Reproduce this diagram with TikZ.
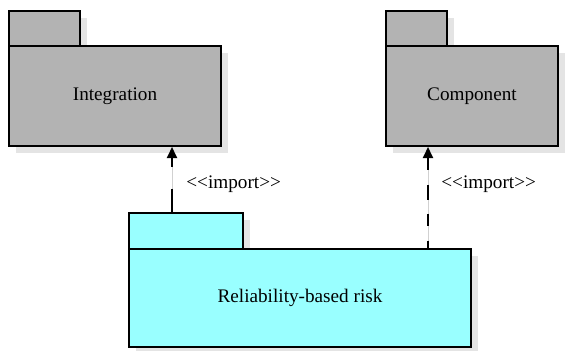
\documentclass[tikz,border=0pt]{standalone}
\usepackage{fontspec}
\setmainfont{Liberation Serif}
\usetikzlibrary{arrows.meta,shadows}
\definecolor{pkggray}{RGB}{179,179,179}
\definecolor{pkgcyan}{RGB}{153,255,255}
\definecolor{shadowgray}{RGB}{228,228,228}
\tikzset{
  pkg/.style={draw=black, line width=1pt, inner sep=0pt,
    drop shadow={shadow xshift=3.5pt, shadow yshift=-3.5pt, fill=shadowgray, opacity=1}},
  pkgbody/.style={pkg, font=\fontsize{9.6}{11.5}\selectfont},
  pkgtab/.style={pkg},
  guide/.style={draw=black!18, line width=0.4pt},
  importdep/.style={draw=black, line width=1pt, {Triangle[length=5.5pt,width=5pt]}-},
  deplabel/.style={font=\fontsize{9.6}{11.5}\selectfont, anchor=west, inner sep=0pt}
}
\begin{document}
\begin{tikzpicture}[x=0.5pt, y=-0.5pt]
  \useasboundingbox (0,0) rectangle (568,350);

  % Integration package
  \node[pkgtab, fill=pkggray, minimum width=35.5pt, minimum height=17.5pt, anchor=north west]
    (inttab) at (8,10) {};
  \node[pkgbody, fill=pkggray, minimum width=106pt, minimum height=50pt, anchor=north west]
    (intbody) at (8,45) {Integration};

  % Component package
  \node[pkgtab, fill=pkggray, minimum width=30.5pt, minimum height=17.5pt, anchor=north west]
    (comptab) at (385,10) {};
  \node[pkgbody, fill=pkggray, minimum width=86pt, minimum height=50pt, anchor=north west]
    (compbody) at (385,45) {Component};

  % Reliability-based risk package
  \node[pkgtab, fill=pkgcyan, minimum width=57pt, minimum height=18pt, anchor=north west]
    (reltab) at (128,212) {};
  \node[pkgbody, fill=pkgcyan, minimum width=171pt, minimum height=49pt, anchor=north west]
    (relbody) at (128,248) {Reliability-based risk};

  % dependency anchor points
  \coordinate (dep1) at (172,212);
  \coordinate (dep2) at (428,248);

  % <<import>> dependencies
  \draw[guide] (dep1 |- intbody.south) -- (dep1);
  \draw[importdep, dash pattern=on 4.5pt off 11pt on 20pt off 0pt]
    (dep1 |- intbody.south) -- (dep1);
  \node[deplabel] (lab1) at (186,184) {<{}<import>{}>};

  \draw[guide] (dep2 |- compbody.south) -- (dep2);
  \draw[importdep, dash pattern=on 6pt off 7.5pt on 7.5pt off 7pt]
    (dep2 |- compbody.south) -- (dep2);
  \node[deplabel] (lab2) at (441,184) {<{}<import>{}>};
\end{tikzpicture}
\end{document}
